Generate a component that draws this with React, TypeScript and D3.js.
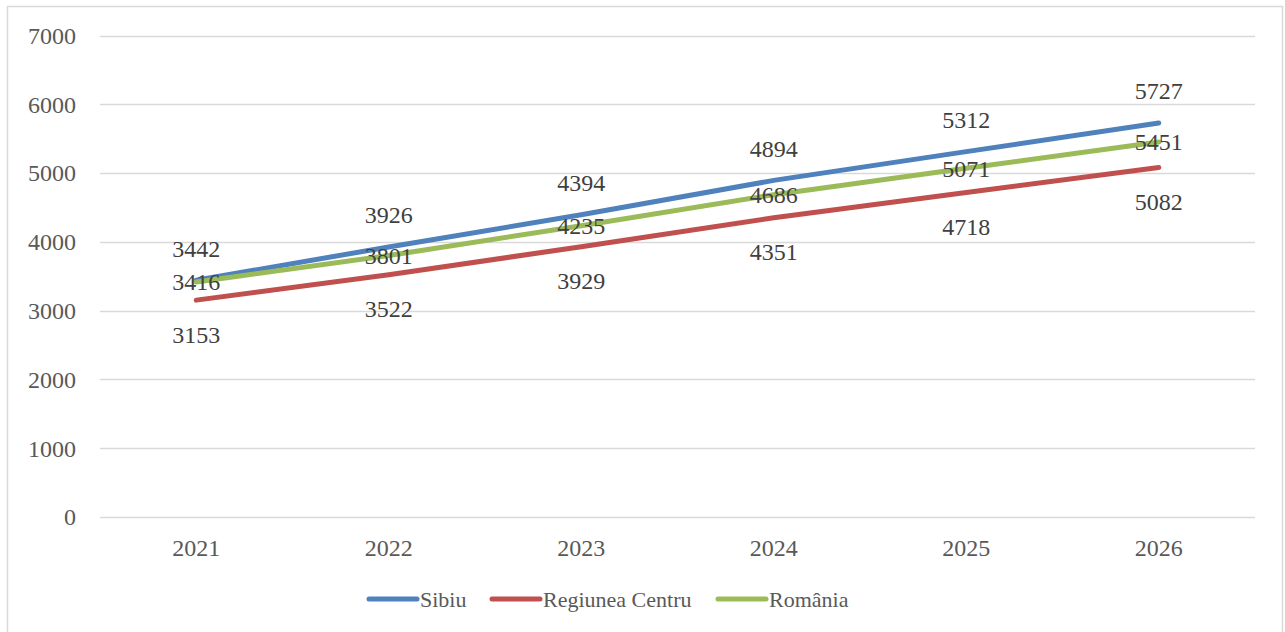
import React, { useEffect, useRef } from "react";
import * as d3 from "d3";

const years = ["2021", "2022", "2023", "2024", "2025", "2026"];
const sibiu = [3442, 3926, 4394, 4894, 5312, 5727];
const centru = [3153, 3522, 3929, 4351, 4718, 5082];
const romania = [3416, 3801, 4235, 4686, 5071, 5451];
const yTicks = [0, 1000, 2000, 3000, 4000, 5000, 6000, 7000];

const seriesList = [
  { name: "Sibiu", values: sibiu, color: "#4F81BD", labelDy: -32 },
  { name: "Regiunea Centru", values: centru, color: "#C0504D", labelDy: 34 },
  { name: "România", values: romania, color: "#9BBB59", labelDy: 0 },
];

const W = 1285;
const H = 632;
const FONT = "'Liberation Serif', serif";

export default function App() {
  const svgRef = useRef<SVGSVGElement>(null);

  useEffect(() => {
    document.body.style.margin = "0";
    const svg = d3.select(svgRef.current);
    svg.selectAll("*").remove();

    // outer frame
    svg
      .append("rect")
      .attr("x", 7.5)
      .attr("y", 6.5)
      .attr("width", 1275)
      .attr("height", 640)
      .attr("fill", "#fff")
      .attr("stroke", "#d9d9d9")
      .attr("stroke-width", 1.5);

    const x = d3.scaleBand().domain(years).range([100, 1255]);
    const y = d3.scaleLinear().domain([0, 7000]).range([517, 35.5]);
    const cx = (d: string) => (x(d) as number) + x.bandwidth() / 2;

    // grid
    svg
      .append("g")
      .selectAll("line")
      .data(yTicks)
      .join("line")
      .attr("x1", 100)
      .attr("x2", 1255)
      .attr("y1", (d) => Math.round(y(d)) + 0.5)
      .attr("y2", (d) => Math.round(y(d)) + 0.5)
      .attr("stroke", "#d9d9d9")
      .attr("stroke-width", 1.5);

    // y labels
    svg
      .append("g")
      .selectAll("text")
      .data(yTicks)
      .join("text")
      .attr("x", 76)
      .attr("y", (d) => y(d))
      .attr("dy", "0.35em")
      .attr("text-anchor", "end")
      .attr("font-family", FONT)
      .attr("font-size", 24)
      .attr("fill", "#595959")
      .text((d) => d);

    // x labels
    svg
      .append("g")
      .selectAll("text")
      .data(years)
      .join("text")
      .attr("x", cx)
      .attr("y", 548)
      .attr("dy", "0.35em")
      .attr("text-anchor", "middle")
      .attr("font-family", FONT)
      .attr("font-size", 24)
      .attr("fill", "#595959")
      .text((d) => d);

    const line = d3
      .line<number>()
      .x((_, i) => cx(years[i]))
      .y((d) => y(d));

    seriesList.forEach((s) => {
      svg
        .append("path")
        .datum(s.values)
        .attr("fill", "none")
        .attr("stroke", s.color)
        .attr("stroke-width", 5)
        .attr("stroke-linecap", "round")
        .attr("d", line);
    });

    // data labels
    seriesList.forEach((s) => {
      svg
        .append("g")
        .selectAll("text")
        .data(s.values)
        .join("text")
        .attr("x", (_, i) => cx(years[i]))
        .attr("y", (d) => y(d) + s.labelDy)
        .attr("dy", "0.35em")
        .attr("text-anchor", "middle")
        .attr("font-family", FONT)
        .attr("font-size", 24)
        .attr("fill", "#404040")
        .text((d) => d);
    });

    // legend
    const legendX = [369, 492, 718];
    const legend = svg
      .append("g")
      .selectAll("g")
      .data(seriesList)
      .join("g")
      .attr("transform", (_, i) => `translate(${legendX[i]},599)`);
    legend
      .append("line")
      .attr("x1", 0)
      .attr("x2", 48)
      .attr("stroke", (d) => d.color)
      .attr("stroke-width", 5)
      .attr("stroke-linecap", "round");
    legend
      .append("text")
      .attr("x", 51)
      .attr("dy", "0.35em")
      .attr("font-family", FONT)
      .attr("font-size", 22)
      .attr("fill", "#595959")
      .text((d) => d.name);
  }, []);

  return <svg ref={svgRef} width={W} height={H} style={{ display: "block" }} />;
}
